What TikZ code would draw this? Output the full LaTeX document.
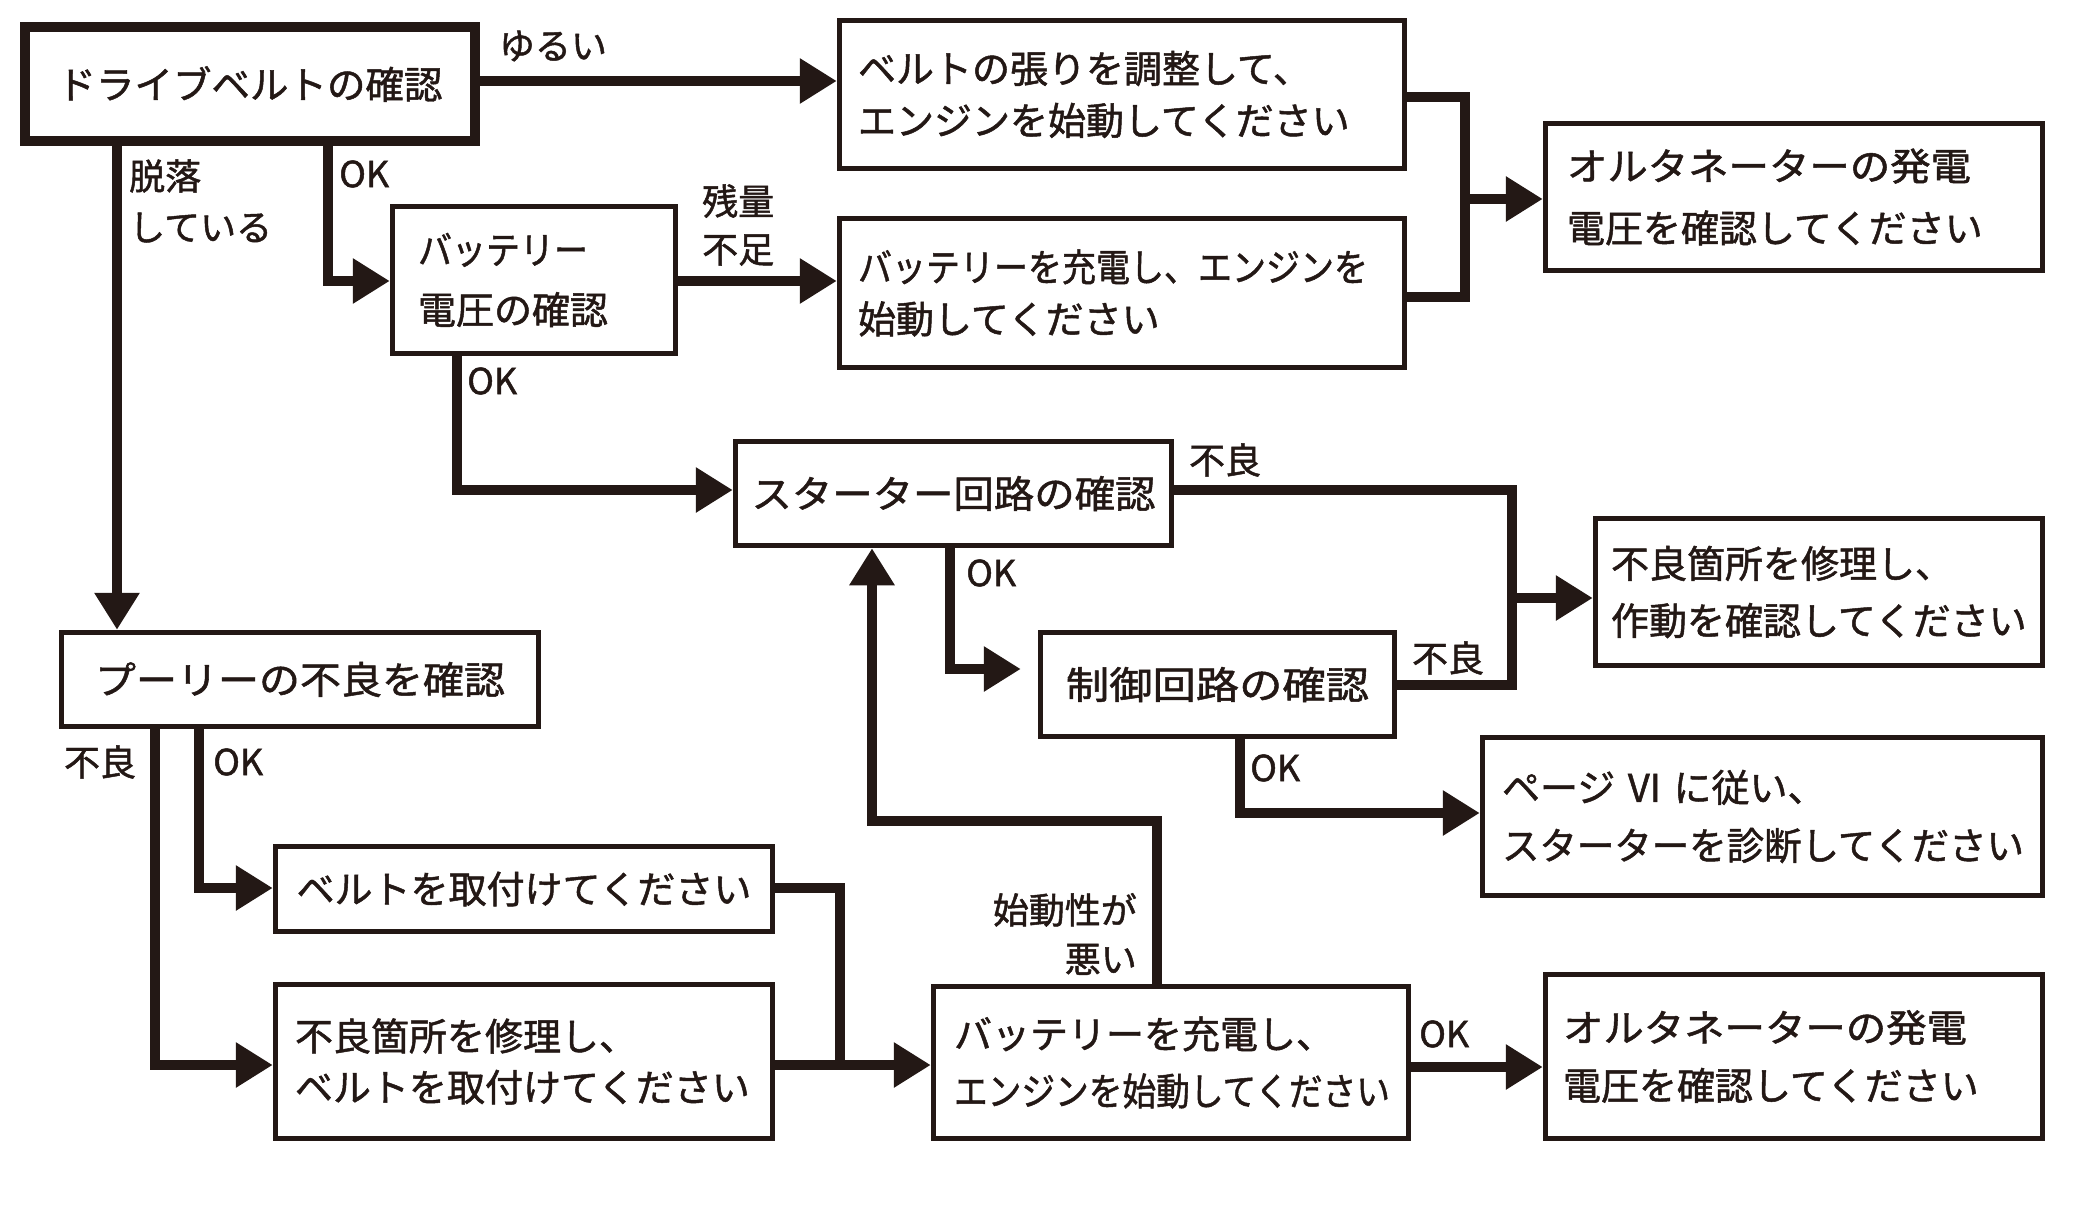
\documentclass[tikz,border=0pt]{standalone}
\usepackage{fontspec}
\usepackage{graphicx}
\setmainfont[FakeBold=1.3]{Noto Sans CJK JP}
\usetikzlibrary{arrows.meta,calc}
\definecolor{ink}{RGB}{35,24,21}
\newcommand{\W}[2]{\resizebox{#1pt}{\height}{#2}}
\begin{document}
\begin{tikzpicture}[x=1pt,y=-1pt,
  box/.style={draw=ink, line width=5.5pt, text=ink, inner sep=0pt, align=center,
    font=\fontsize{38}{56}\selectfont},
  lbox/.style={box, align=left, inner ysep=0pt},
  lab/.style={inner sep=0pt, text=ink, font=\fontsize{36}{50}\selectfont},
  line/.style={draw=ink, line width=9.5pt, line join=miter},
  conn/.style={line, -{Triangle[length=37pt,width=43pt]}}
]
\fill[white] (0,0) rectangle (2092,1204);
\useasboundingbox (0,0) rectangle (2092,1204);

% boxes
\node[box, line width=10pt, minimum width=450pt, minimum height=114pt] (B1) at (250,84) {\W{385}{ドライブベルトの確認}};
\node[lbox, inner xsep=18.5pt, text width=528pt, minimum height=148pt, font=\fontsize{38}{52}\selectfont] (B2) at (1122,94.5)
  {ベルトの張りを調整して、\\エンジンを始動してください};
\node[lbox, inner xsep=18.5pt, text width=528pt, minimum height=149pt, font=\fontsize{38}{52}\selectfont] (B3) at (1122,293)
  {\W{510}{バッテリーを充電し、エンジンを}\\始動してください};
\node[lbox, inner xsep=21.5pt, text width=454pt, minimum height=147pt, font=\fontsize{38}{62}\selectfont] (B4) at (1794,197)
  {\W{404}{オルタネーターの発電}\\電圧を確認してください};
\node[lbox, inner xsep=25.5pt, text width=232pt, minimum height=147pt, font=\fontsize{38}{60}\selectfont] (B5) at (534,280)
  {\W{170}{バッテリー}\\電圧の確認};
\node[box, minimum width=436pt, minimum height=104pt] (B6) at (953.5,493.5) {\W{404}{スターター回路の確認}};
\node[box, minimum width=354pt, minimum height=104pt] (B7) at (1217.5,684.5) {\W{303}{制御回路の確認}};
\node[lbox, inner xsep=15.5pt, text width=416pt, minimum height=147pt, font=\fontsize{38}{57}\selectfont] (B8) at (1819,592)
  {不良箇所を修理し、\\作動を確認してください};
\node[lbox, inner xsep=19.5pt, text width=521pt, minimum height=158pt, font=\fontsize{38}{58}\selectfont] (B9) at (1762.5,816.5)
  {ページ VI に従い、\\\W{522}{スターターを診断してください}};
\node[box, minimum width=477pt, minimum height=94pt] (B10) at (300,679.5) {\W{410}{プーリーの不良を確認}};
\node[box, minimum width=497pt, minimum height=85pt] (B11) at (524,889) {ベルトを取付けてください};
\node[lbox, inner xsep=19.5pt, text width=458pt, minimum height=154pt, font=\fontsize{38}{51}\selectfont] (B12) at (524,1061.5)
  {不良箇所を修理し、\\ベルトを取付けてください};
\node[lbox, inner xsep=20.5pt, text width=434pt, minimum height=152pt, font=\fontsize{38}{57}\selectfont] (B13) at (1171,1062.5)
  {バッテリーを充電し、\\\W{436}{エンジンを始動してください}};
\node[lbox, inner xsep=17.5pt, text width=462pt, minimum height=164pt, font=\fontsize{38}{58}\selectfont] (B14) at (1794,1056.5)
  {\W{404}{オルタネーターの発電}\\電圧を確認してください};

% junction coordinates
\coordinate (j1) at (1465,199);
\coordinate (j2) at (1512,598);
\coordinate (j3) at (840,1065);
\coordinate (j4) at (872,821);

% connectors
\draw[conn] (B1.east |- 0,81) -- (B2.west |- 0,81);
\draw[conn] (B1.south -| 117,0) -- (B10.north -| 117,0);
\draw[conn] (B1.south -| 328,0) |- (B5.west |- 0,281);
\draw[conn] (B5.east |- 0,281) -- (B3.west |- 0,281);
\draw[line] (B2.east |- 0,97) -| (j1) |- (B3.east |- 0,297);
\draw[conn] (j1) -- (B4.west |- j1);
\draw[conn] (B5.south -| 457,0) |- (B6.west |- 0,490);
\draw[line] (B6.east |- 0,490) -| (j2) |- (B7.east |- 0,685);
\draw[conn] (j2) -- (B8.west |- j2);
\draw[conn, shorten >=17pt] (B6.south -| 950,0) |- (B7.west |- 0,669);
\draw[conn] (B7.south -| 1240,0) |- (B9.west |- 0,813);
\draw[conn] (B10.south -| 155,0) |- (B12.west |- 0,1065);
\draw[conn] (B10.south -| 199,0) |- (B11.west |- 0,888);
\draw[line] (B11.east |- 0,888) -| (j3);
\draw[conn] (B12.east |- 0,1065) -- (B13.west |- 0,1065);
\draw[conn] (B13.north -| 1157,0) |- (j4) -- (B6.south -| j4);
\draw[conn] (B13.east |- 0,1067) -- (B14.west |- 0,1067);

% labels
\node[lab] (L1) at (553,46) {ゆるい};
\node[lab, anchor=west, align=left, font=\fontsize{36}{51}\selectfont] (L2) at (129,201) {脱落\\している};
\node[lab, anchor=west] (L3) at (339,174) {OK};
\node[lab, anchor=west, align=left, font=\fontsize{36}{48}\selectfont] (L4) at (702,225) {残量\\不足};
\node[lab, anchor=west] (L5) at (467,381) {OK};
\node[lab] (L6) at (1225,460) {不良};
\node[lab, anchor=west] (L7) at (966,573) {OK};
\node[lab] (L8) at (1448,658) {不良};
\node[lab, anchor=west] (L9) at (1250,768) {OK};
\node[lab] (L10) at (100,762) {不良};
\node[lab, anchor=west] (L11) at (213,762) {OK};
\node[lab, anchor=east, align=right, font=\fontsize{36}{49}\selectfont] (L12) at (1137,934) {始動性が\\悪い};
\node[lab, anchor=west] (L13) at (1419,1034) {OK};
\end{tikzpicture}
\end{document}
